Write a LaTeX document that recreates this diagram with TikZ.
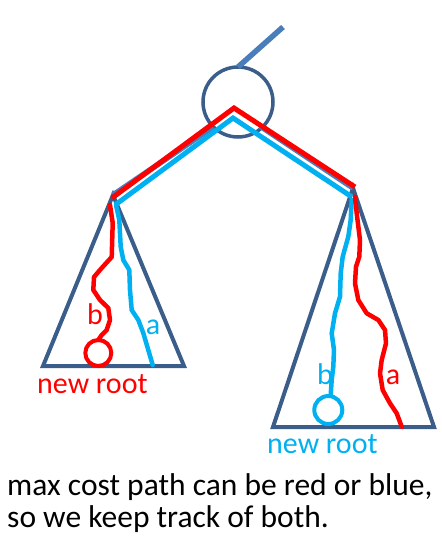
\documentclass[tikz,border=0pt]{standalone}
\usepackage{fontspec}
\setmainfont{Carlito}
\definecolor{tri}{HTML}{3A5D8A}
\definecolor{edge}{HTML}{4A7EBB}
\definecolor{pred}{HTML}{FF0000}
\definecolor{pcyan}{HTML}{00B0F0}
\begin{document}
\begin{tikzpicture}[x=1pt,y=-1pt,
  tristyle/.style={draw=tri,line width=4pt,line join=miter},
  edgestyle/.style={draw=edge,line width=5.5pt},
  redpath/.style={draw=pred,line width=4.5pt,line join=round,line cap=round},
  cyanpath/.style={draw=pcyan,line width=4.5pt,line join=round,line cap=round},
  lbl/.style={font=\fontsize{30}{34}\selectfont,inner sep=0pt}]
\useasboundingbox (0,0) rectangle (442,547);
% root
\node[circle,draw=tri,line width=3.5pt,minimum size=70pt,inner sep=0pt] (root) at (238,102) {};
\coordinate (topend) at (283,27);
\draw[edgestyle] (238,67) -- (topend);
% subtree apexes
\coordinate (LA) at (113,195);
\coordinate (RA) at (353,188);
% triangles
\draw[tristyle] (LA) -- (43,366) -- (184,366) -- cycle;
\draw[tristyle] (RA) -- (273,427) -- (434,427) -- cycle;
% edges
\draw[edgestyle] (213,127) -- (LA);
\draw[edgestyle] (260,126) -- (RA);
% red top path
\draw[draw=pred,line width=5pt] (112,198) -- (234,108) -- (355,187);
% cyan top path
\draw[draw=pcyan,line width=5pt] (115,205) -- (233,118) -- (352,197);
% left red b
\draw[redpath] (110,205) -- (112.7,223) -- (111.7,257) -- (101.7,268) -- (94,277) -- (93.3,290) -- (100,300) -- (108.3,308) -- (110,320) -- (106.7,330) -- (101.7,335) -- (98.3,340);
\node[circle,draw=pred,line width=4pt,minimum size=26pt,inner sep=0pt] (nrL) at (98.3,353) {};
\node[lbl,text=pred,anchor=base] (bL) at (95,324) {b};
% left cyan a
\draw[cyanpath] (116,205) -- (119.3,220) -- (120.7,246.7) -- (123.3,260) -- (129.3,270) -- (130,290) -- (131.7,310) -- (138.3,320) -- (143.3,333) -- (148.3,350) -- (152.7,365);
\node[lbl,text=pcyan,anchor=base] (aL) at (153,334) {a};
% right cyan b
\draw[cyanpath] (351.7,200) -- (350.7,220) -- (348.3,236.7) -- (342.7,256.7) -- (340.7,273.3) -- (340,296.7) -- (335,313.3) -- (331.7,333.3) -- (334,350) -- (333.3,366.7) -- (331.7,380) -- (330.7,395);
\node[circle,draw=pcyan,line width=4pt,minimum size=28pt,inner sep=0pt] (nrR) at (328.3,410) {};
\node[lbl,text=pcyan,anchor=base] (bR) at (325,384) {b};
% right red a
\draw[redpath] (355,196.7) -- (356.7,213.3) -- (360,240) -- (359.3,256.7) -- (356,266.7) -- (355,283.3) -- (358.3,300) -- (366.7,313.3) -- (378.3,320) -- (385,330) -- (386,343.3) -- (381.7,360) -- (380,373.3) -- (382.7,390) -- (390,403.3) -- (396.7,413.3) -- (401.7,426.7);
\node[lbl,text=pred,anchor=base] (aR) at (393,384) {a};
% new root labels
\node[lbl,text=pred,anchor=base west] (newL) at (37,393) {new root};
\node[lbl,text=pcyan,anchor=base west] (newR) at (267,453) {new root};
% caption
\node[anchor=base west,inner sep=0pt,font=\fontsize{31.5}{32}\selectfont,align=left] (cap) at (7,527) {max cost path can be red or blue,\\so we keep track of both.};
\end{tikzpicture}
\end{document}
